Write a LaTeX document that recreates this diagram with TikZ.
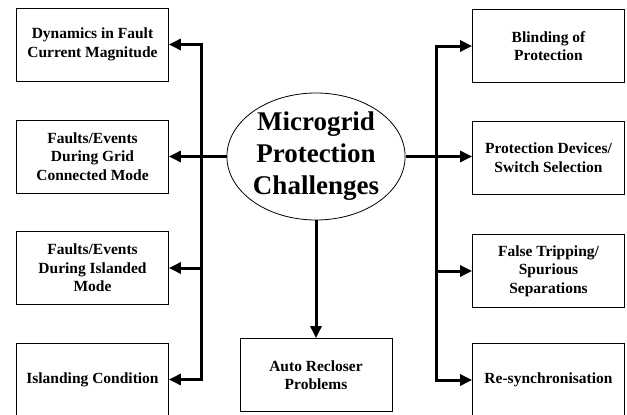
\documentclass[tikz,border=0pt]{standalone}
\usepackage{fontspec}
\setmainfont{Liberation Serif}
\usetikzlibrary{arrows.meta,shapes.geometric}
\tikzset{
  box/.style={draw, line width=0.8pt, minimum width=152pt, minimum height=73pt,
    align=center, inner sep=2pt, font=\bfseries\fontsize{15.5}{18.5}\selectfont},
  hub/.style={draw, ellipse, line width=0.8pt, minimum width=178pt, minimum height=127pt,
    inner sep=0pt, align=center, font=\bfseries\fontsize{27}{32}\selectfont},
  link/.style={line width=3pt, line join=miter},
  arr/.style={link, -{Triangle[length=12pt,width=11pt]}},
  arrs/.style={link, {Triangle[length=12pt,width=11pt]}-{Triangle[length=12pt,width=11pt]}}
}
\begin{document}
\begin{tikzpicture}[x=1pt,y=-1pt]
\useasboundingbox (0,0) rectangle (627,415);

% central topic
\node[hub] (main) at (316,156.5) {Microgrid\\Protection\\Challenges};

% left column
\node[box] (l1) at (92.5,44.5) {Dynamics in Fault\\Current Magnitude};
\node[box] (l2) at (92.5,156.5) {Faults/Events\\During Grid\\Connected Mode};
\node[box] (l3) at (92.5,268) {Faults/Events\\During Islanded\\Mode};
\node[box] (l4) at (92.5,379.5) {Islanding Condition};

% right column
\node[box] (r1) at (548.5,46) {Blinding of\\Protection};
\node[box] (r2) at (548.5,157.5) {Protection Devices/\\Switch Selection};
\node[box] (r3) at (548.5,271) {False Tripping/\\Spurious\\Separations};
\node[box] (r4) at (548.5,380) {Re-synchronisation};

% bottom
\node[box] (b) at (316,375) {Auto Recloser\\Problems};

% trunk lines
\coordinate (lt) at (201,0);
\coordinate (rt) at (436,0);

% left branch
\draw[arrs] (l1.east) -- (lt |- l1.east) -- (lt |- l4.east) -- (l4.east);
\draw[arr] (main.west) -- (main.west -| l2.east);
\draw[arr] (lt |- l3.east) -- (l3.east);

% right branch
\draw[arrs] (r1.west) -- (rt |- r1.west) -- (rt |- r4.west) -- (r4.west);
\draw[arr] (main.east) -- (main.east -| r2.west);
\draw[arr] (rt |- r3.west) -- (r3.west);

% downward branch
\draw[arr] (main.south) -- (b.north);
\end{tikzpicture}
\end{document}
